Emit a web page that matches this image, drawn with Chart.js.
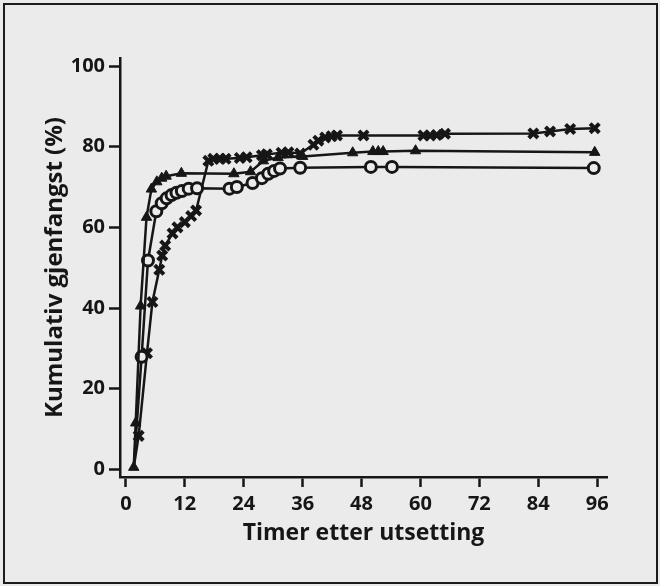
<!DOCTYPE html>
<html>
<head>
<meta charset="utf-8">
<script src="https://cdn.jsdelivr.net/npm/chart.js@4"></script>
<style>
  html, body { margin: 0; padding: 0; background: #ebebeb; }
  #wrap { position: relative; width: 660px; height: 586px; overflow: hidden; }
  #frame { position: absolute; left: 3px; top: 3px; width: 651px; height: 577px; border: 2px solid #1c1c1c; }
  canvas { position: absolute; left: 0; top: 0; }
</style>
</head>
<body>
<div id="wrap">
  <div id="frame"></div>
  <canvas id="chart" width="660" height="586"></canvas>
</div>
<script>
// tick labels
const xTicks = [0, 12, 24, 36, 48, 60, 72, 84, 96];
const yTicks = [0, 20, 40, 60, 80, 100];

// triangles (filled)
const triHours  = [1.6, 2.0, 3.0, 4.2, 5.2, 6.3, 7.3, 8.2, 11.3, 22.0, 25.4, 28.0, 31.0, 36.0, 46.2, 50.3, 51.4, 52.4, 59.0, 95.5];
const triValues = [0.5, 11.5, 40.5, 62.5, 69.5, 71.3, 72.2, 72.7, 73.4, 73.3, 73.8, 76.5, 77.3, 77.6, 78.5, 78.8, 78.8, 78.8, 79.0, 78.6];

// open circles
const circHours  = [1.6, 3.2, 4.5, 6.2, 7.3, 8.3, 9.3, 10.3, 11.4, 12.8, 14.5, 21.1, 22.6, 25.8, 27.7, 29.0, 30.2, 31.4, 35.5, 49.9, 54.2, 95.3];
const circValues = [0.5, 27.9, 51.8, 64.0, 66.0, 67.2, 68.0, 68.6, 69.0, 69.6, 69.7, 69.6, 70.0, 71.0, 72.2, 73.3, 74.0, 74.6, 74.8, 75.0, 75.0, 74.7];

// crosses
const crossHours  = [1.6, 2.6, 4.3, 5.4, 6.8, 7.4, 8.0, 9.5, 10.5, 12.0, 13.3, 14.3, 16.8, 17.8, 19.2, 20.3, 23.2, 24.6, 27.7, 28.7, 31.7, 33.1, 35.5, 38.2, 39.2, 40.6, 41.9, 43.0, 48.4, 60.6, 62.0, 63.3, 65.0, 83.0, 86.4, 90.5, 95.5];
const crossValues = [0.5, 8.3, 28.8, 41.5, 49.5, 53.0, 55.5, 58.5, 60.0, 61.3, 62.8, 64.2, 76.5, 77.0, 77.0, 77.0, 77.2, 77.4, 77.9, 78.1, 78.5, 78.6, 78.3, 80.5, 81.5, 82.3, 82.6, 82.8, 82.8, 82.8, 82.8, 82.9, 83.2, 83.3, 83.8, 84.4, 84.6];

const ink = '#161616';
const paper = '#ececec';

function toPoints(xs, ys) {
  return xs.map((x, i) => ({ x: x, y: ys[i] }));
}

// first point is the common start, hidden under the triangle
function radii(n, r) {
  return Array.from({ length: n }, (_, i) => i === 0 ? 0 : r);
}

const tickFont = { family: 'Open Sans', size: 20, weight: '700' };

const ctx = document.getElementById('chart').getContext('2d');
new Chart(ctx, {
  type: 'scatter',
  data: {
    datasets: [
      {
        label: 'Triangel',
        data: toPoints(triHours, triValues),
        showLine: true,
        borderColor: ink,
        borderWidth: 2.5,
        pointStyle: 'triangle',
        pointRadius: 6,
        pointBackgroundColor: ink,
        pointBorderColor: ink,
        pointBorderWidth: 1,
        tension: 0
      },
      {
        label: 'Sirkel',
        data: toPoints(circHours, circValues),
        showLine: true,
        borderColor: ink,
        borderWidth: 2.5,
        pointStyle: 'circle',
        pointRadius: radii(circHours.length, 5.5),
        pointBackgroundColor: paper,
        pointBorderColor: ink,
        pointBorderWidth: 3,
        tension: 0
      },
      {
        label: 'Kryss',
        data: toPoints(crossHours, crossValues),
        showLine: true,
        borderColor: ink,
        borderWidth: 2.5,
        pointStyle: 'crossRot',
        pointRadius: radii(crossHours.length, 6.5),
        pointBorderColor: ink,
        pointBorderWidth: 4,
        tension: 0
      }
    ]
  },
  options: {
    responsive: false,
    animation: false,
    layout: { padding: { left: 36.6, right: 53, top: 58, bottom: 35.2 } },
    plugins: {
      legend: { display: false },
      tooltip: { enabled: false }
    },
    scales: {
      x: {
        type: 'linear',
        min: -1.2,
        max: 98,
        afterBuildTicks: (scale) => { scale.ticks = xTicks.map(v => ({ value: v })); },
        afterFit: (scale) => { scale.height = 73.8; },
        border: { display: true, color: ink, width: 2.5 },
        grid: { drawOnChartArea: false, drawTicks: true, tickLength: 10, tickColor: ink, tickWidth: 2.5 },
        ticks: { color: ink, padding: 5, maxRotation: 0, font: tickFont },
        title: {
          display: true,
          text: 'Timer etter utsetting',
          color: ink,
          font: { family: 'Open Sans', size: 23, weight: '700' }
        }
      },
      y: {
        type: 'linear',
        min: -1.9,
        max: 102,
        afterBuildTicks: (scale) => { scale.ticks = yTicks.map(v => ({ value: v })); },
        afterFit: (scale) => { scale.width = 83.4; },
        border: { display: true, color: ink, width: 2.5 },
        grid: { drawOnChartArea: false, drawTicks: true, tickLength: 11, tickColor: ink, tickWidth: 2.5 },
        ticks: { color: ink, padding: 4, font: tickFont },
        title: {
          display: true,
          text: 'Kumulativ gjenfangst (%)',
          color: ink,
          font: { family: 'Open Sans', size: 24, weight: '700' }
        }
      }
    }
  }
});
</script>
</body>
</html>
